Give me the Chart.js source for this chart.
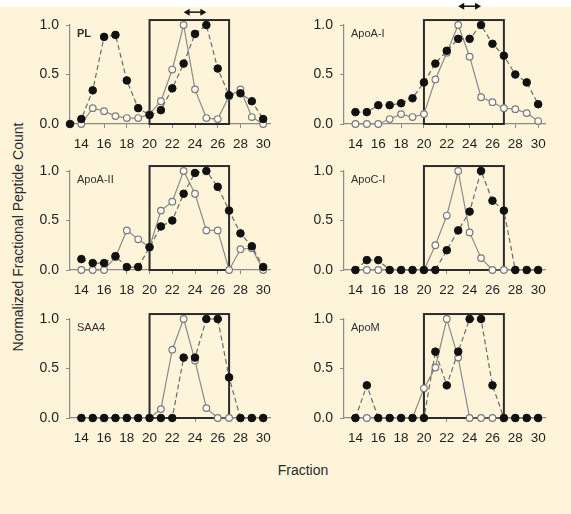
<!DOCTYPE html>
<html><head><meta charset="utf-8">
<script src="https://cdn.jsdelivr.net/npm/chart.js@4.4.1/dist/chart.umd.min.js"></script>
<style>
html,body{margin:0;padding:0;}
#wrap{position:relative;width:571px;height:514px;background:#fdf4da;overflow:hidden;font-family:"Liberation Sans",Arial,sans-serif;}
#strip{position:absolute;left:0;top:0;width:571px;height:7px;background:#ffffff;}
canvas{position:absolute;}
#ytitle{position:absolute;left:18px;top:237px;transform:translate(-50%,-50%) rotate(-90deg);white-space:nowrap;font-size:14px;color:#2a2a2a;}
#xtitle{position:absolute;left:303px;top:470px;transform:translate(-50%,-50%);font-size:14px;color:#2a2a2a;}
</style></head>
<body>
<div id="wrap">
<div id="strip"></div>
<div id="ytitle">Normalized Fractional Peptide Count</div>
<div id="xtitle">Fraction</div>
</div>
<script>
// ---- data ----
const fractions = [13,14,15,16,17,18,19,20,21,22,23,24,25,26,27,28,29,30];
const xTickValues = [14,16,18,20,22,24,26,28,30];
const yTickValues = [0,0.5,1.0];
const panelNames = ["PL","ApoA-I","ApoA-II","ApoC-I","SAA4","ApoM"];

const plFilled   = [0,0.05,0.34,0.88,0.90,0.44,0.16,0.09,0.14,0.36,0.61,0.91,1.0,0.56,0.29,0.31,0.23,0.05];
const plOpen     = [null,0,0.16,0.13,0.08,0.06,0.06,0.10,0.23,0.55,1.0,0.35,0.06,0.05,0.28,0.35,0.07,0.0];
const apoAIFilled  = [null,0.12,0.12,0.19,0.19,0.21,0.26,0.42,0.61,0.74,0.86,0.86,1.0,0.81,0.69,0.50,0.42,0.20];
const apoAIOpen    = [null,0,0,0,0.05,0.10,0.07,0.10,0.45,0.72,1.0,0.68,0.27,0.22,0.16,0.15,0.11,0.03];
const apoAIIFilled = [null,0.11,0.07,0.07,0.14,0.03,0.03,0.23,0.44,0.50,0.77,0.98,1.0,0.84,0.60,0.37,0.24,0.03];
const apoAIIOpen   = [null,0,0,0,0.13,0.40,0.31,0.23,0.60,0.69,1.0,0.77,0.40,0.40,0,0.21,0.22,0];
const apoCIFilled  = [null,0,0.10,0.10,0,0,0,0,0,0.20,0.40,0.59,1.0,0.70,0.60,0,0,0];
const apoCIOpen    = [null,0,0,0,0,0,0,0,0.25,0.55,1.0,0.38,0.12,0,0,0,0,0];
const saa4Filled   = [null,0,0,0,0,0,0,0,0,0,0.61,0.61,1.0,1.0,0.41,0,0,0];
const saa4Open     = [null,0,0,0,0,0,0,0,0.09,0.69,1.0,0.58,0.10,0,0,0,0,0];
const apoMFilled   = [null,0,0.33,0,0,0,0,0,0.67,0.33,0.67,1.0,1.0,0.33,0,0,0,0];
const apoMOpen     = [null,0,0,0,0,0,0,0.30,0.51,1.0,0.61,0,0,0,0,0,0,0];

const boxRange = [20,27];
const arrowRange = [23,25];

// ---- layout ----
const panels = [
  {name:panelNames[0], filled:plFilled,     open:plOpen,     col:0, row:0, bold:true,  arrowLevel:1.13},
  {name:panelNames[1], filled:apoAIFilled,  open:apoAIOpen,  col:1, row:0, bold:false, arrowLevel:1.19},
  {name:panelNames[2], filled:apoAIIFilled, open:apoAIIOpen, col:0, row:1, bold:false, arrowLevel:null},
  {name:panelNames[3], filled:apoCIFilled,  open:apoCIOpen,  col:1, row:1, bold:false, arrowLevel:null},
  {name:panelNames[4], filled:saa4Filled,   open:saa4Open,   col:0, row:2, bold:false, arrowLevel:null},
  {name:panelNames[5], filled:apoMFilled,   open:apoMOpen,   col:1, row:2, bold:false, arrowLevel:null}
];
const cols = [{left:0,width:285,axisX:70,rightX:270},{left:285,width:286,axisX:344,rightX:545}];
const rows = [{y1:25,y0:124},{y1:171,y0:270},{y1:319,y0:418}];
const Y_AXIS_W = 40, X_AXIS_H = 30, TOP_PAD = 25, CANVAS_H = 165;

const overlay = {
  id:'overlay',
  beforeDatasetsDraw(chart, args, opts){
    const {ctx, scales:{x,y}} = chart;
    ctx.save();
    const xl = x.getPixelForValue(boxRange[0]), xr = x.getPixelForValue(boxRange[1]);
    const yt = y.getPixelForValue(1.05), yb = y.getPixelForValue(0);
    ctx.strokeStyle = '#2b2b2b'; ctx.lineWidth = 2;
    ctx.strokeRect(xl, yt, xr-xl, yb-yt);
    ctx.restore();
  },
  afterDraw(chart, args, opts){
    const {ctx, scales:{x,y}, chartArea} = chart;
    ctx.save();
    ctx.fillStyle = '#2f2f2f';
    ctx.font = (opts.bold ? 'bold ' : '') + '11px "Liberation Sans", Arial, sans-serif';
    ctx.textBaseline = 'middle'; ctx.textAlign = 'left';
    ctx.fillText(opts.name, chartArea.left + 7, chartArea.top + 9);
    if (opts.arrowLevel != null) {
      const a = x.getPixelForValue(arrowRange[0]), b = x.getPixelForValue(arrowRange[1]);
      const ay = y.getPixelForValue(opts.arrowLevel);
      ctx.strokeStyle = '#111'; ctx.fillStyle = '#111'; ctx.lineWidth = 1.5;
      ctx.beginPath(); ctx.moveTo(a+3, ay); ctx.lineTo(b-3, ay); ctx.stroke();
      ctx.beginPath(); ctx.moveTo(a, ay); ctx.lineTo(a+6, ay-3.5); ctx.lineTo(a+6, ay+3.5); ctx.closePath(); ctx.fill();
      ctx.beginPath(); ctx.moveTo(b, ay); ctx.lineTo(b-6, ay-3.5); ctx.lineTo(b-6, ay+3.5); ctx.closePath(); ctx.fill();
    }
    ctx.restore();
  }
};

const wrap = document.getElementById('wrap');
panels.forEach(p => {
  const c = cols[p.col], r = rows[p.row];
  const canvasTop = r.y1 - TOP_PAD;
  const cv = document.createElement('canvas');
  cv.width = c.width; cv.height = CANVAS_H;
  cv.style.left = c.left + 'px'; cv.style.top = canvasTop + 'px';
  cv.style.width = c.width + 'px'; cv.style.height = CANVAS_H + 'px';
  wrap.appendChild(cv);
  const pad = {
    left: c.axisX - c.left - Y_AXIS_W,
    right: c.left + c.width - c.rightX,
    top: TOP_PAD,
    bottom: CANVAS_H - TOP_PAD - (r.y0 - r.y1) - X_AXIS_H
  };
  const toPts = arr => fractions.map((f,i) => ({x:f, y:arr[i]})).filter(d => d.y !== null);
  new Chart(cv, {
    type:'line',
    data:{datasets:[
      {data:toPts(p.filled), order:0, borderColor:'#6a6a6a', borderWidth:1.2, borderDash:[5,3],
       pointRadius:3.8, pointBackgroundColor:'#111', pointBorderColor:'#111', pointBorderWidth:1,
       tension:0, clip:false, spanGaps:true},
      {data:toPts(p.open), order:1, borderColor:'#8a8a8a', borderWidth:1.2,
       pointRadius:3.3, pointBackgroundColor:'#fffaf0', pointBorderColor:'#7a7a7a', pointBorderWidth:1.2,
       tension:0, clip:false, spanGaps:true}
    ]},
    options:{
      responsive:false, animation:false, devicePixelRatio:1,
      layout:{padding:pad},
      plugins:{legend:{display:false}, tooltip:{enabled:false}, overlay:{name:p.name, bold:p.bold, arrowLevel:p.arrowLevel}},
      scales:{
        x:{type:'linear', min:13, max:30.6,
           afterFit: s => { s.height = X_AXIS_H; },
           afterBuildTicks: s => { s.ticks = xTickValues.map(v => ({value:v})); },
           grid:{drawOnChartArea:false, drawTicks:true, tickLength:4, color:'#8c8c84'},
           border:{color:'#8c8c84', width:1.2},
           ticks:{color:'#1f1f1f', padding:8, maxRotation:0, autoSkip:false,
                  font:{size:13.5, family:'"Liberation Sans", Arial, sans-serif'}}},
        y:{type:'linear', min:0, max:1,
           afterFit: s => { s.width = Y_AXIS_W; },
           afterBuildTicks: s => { s.ticks = yTickValues.map(v => ({value:v})); },
           grid:{drawOnChartArea:false, drawTicks:true, tickLength:4, color:'#8c8c84'},
           border:{color:'#8c8c84', width:1.2},
           ticks:{color:'#1f1f1f', padding:7, callback: v => Number(v).toFixed(1),
                  font:{size:14, family:'"Liberation Sans", Arial, sans-serif'}}}
      }
    },
    plugins:[overlay]
  });
});
</script>
</body></html>
